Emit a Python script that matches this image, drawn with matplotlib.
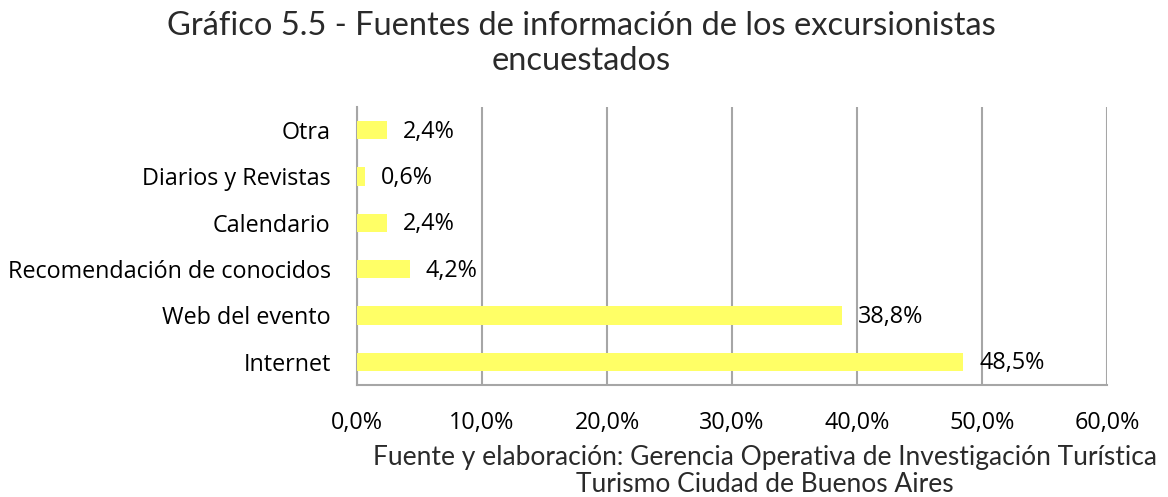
import numpy as np
import matplotlib.pyplot as plt
from matplotlib.ticker import FuncFormatter

# data
categorias = ['Internet', 'Web del evento', 'Recomendación de conocidos',
              'Calendario', 'Diarios y Revistas', 'Otra']
valores = [48.5, 38.8, 4.2, 2.4, 0.6, 2.4]
etiquetas = ['48,5%', '38,8%', '4,2%', '2,4%', '0,6%', '2,4%']

fig = plt.figure(figsize=(11.68, 4.97), dpi=100)
ax = fig.add_axes([0.3057, 0.2254, 0.6421, 0.5593])

y = np.arange(len(categorias))
ax.barh(y, valores, height=0.4, color='#ffff66', zorder=3)

for yi, v, t in zip(y, valores, etiquetas):
    ax.text(v + 1.3, yi - 0.03, t, va='center', ha='left', fontsize=16.8,
            family='Open Sans', color='black')

ax.set_xlim(0, 60)
ax.set_ylim(-0.5, len(categorias) - 0.5)
ax.set_xticks(np.arange(0, 61, 10))
ax.xaxis.set_major_formatter(FuncFormatter(lambda x, p: ('%.1f%%' % x).replace('.', ',')))
ax.set_yticks(y)
ax.set_yticklabels(categorias)
ax.tick_params(axis='both', length=0, labelsize=16.8, colors='black')
ax.tick_params(axis='x', pad=19)
ax.tick_params(axis='y', pad=19)
for lab in ax.get_xticklabels() + ax.get_yticklabels():
    lab.set_family('Open Sans')

ax.grid(axis='x', color='#a6a6a6', linewidth=1.5, zorder=0)
for s in ['top', 'right']:
    ax.spines[s].set_visible(False)
for s in ['left', 'bottom']:
    ax.spines[s].set_color('#a6a6a6')
    ax.spines[s].set_linewidth(1.5)

fig.text(0.498, 0.912, 'Gráfico 5.5 - Fuentes de información de los excursionistas\nencuestados',
         ha='center', va='center', fontsize=23.5, family='Lato',
         color='#2a2a2a', linespacing=1.2)
fig.text(0.655, 0.052, 'Fuente y elaboración: Gerencia Operativa de Investigación Turística\nTurismo Ciudad de Buenos Aires',
         ha='center', va='center', fontsize=19, family='Lato',
         color='#2a2a2a', linespacing=1.1)

plt.savefig('out.png', dpi=100)
